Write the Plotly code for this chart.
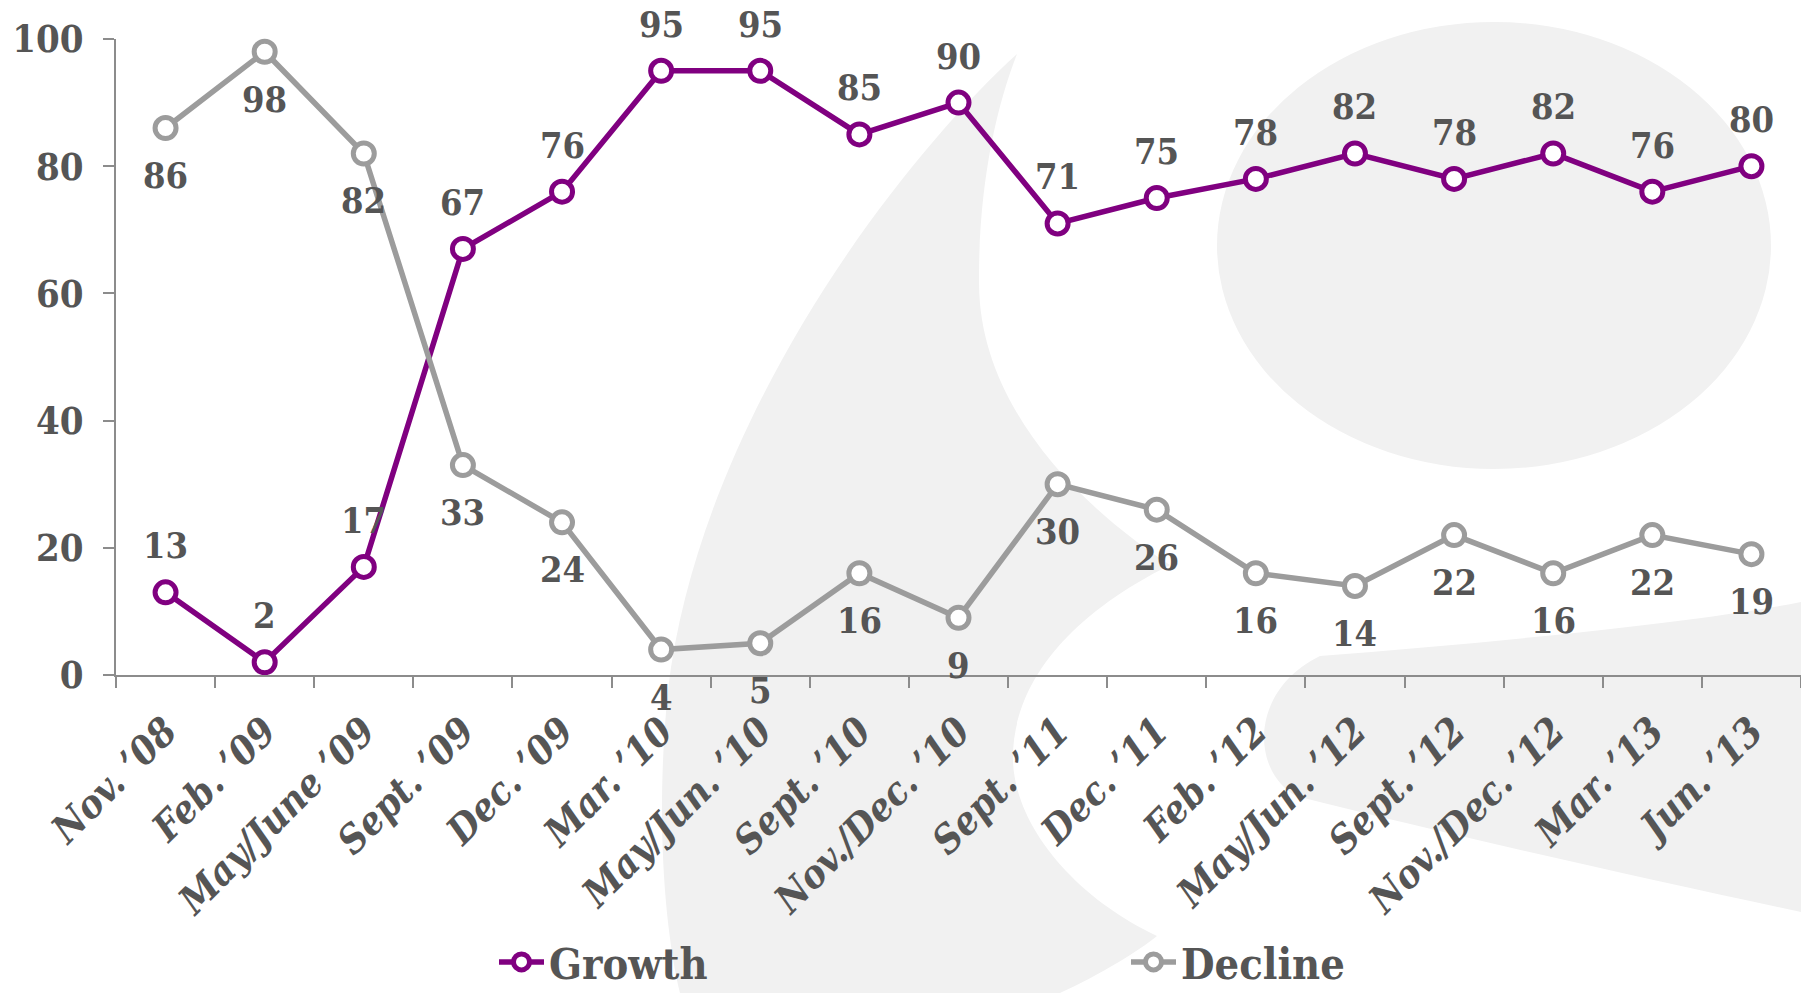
import plotly.graph_objects as go

categories = ["Nov. ’08", "Feb. ’09", "May/June ’09", "Sept. ’09", "Dec. ’09",
              "Mar. ’10", "May/Jun. ’10", "Sept. ’10", "Nov./Dec. ’10", "Sept. ’11",
              "Dec. ’11", "Feb. ’12", "May/Jun. ’12", "Sept. ’12", "Nov./Dec. ’12",
              "Mar. ’13", "Jun. ’13"]
growth = [13, 2, 17, 67, 76, 95, 95, 85, 90, 71, 75, 78, 82, 78, 82, 76, 80]
decline = [86, 98, 82, 33, 24, 4, 5, 16, 9, 30, 26, 16, 14, 22, 16, 22, 19]

PURPLE = "#800080"
GREY = "#9C9C9C"
TEXT = "#555555"
FONT = "'DejaVu Serif Condensed', 'DejaVu Serif', serif"
W, H = 1801, 993
ML, MR, MT, MB = 116, 0, 39, 318
PW, PH = W - ML - MR, H - MT - MB


def px(x):
    return (x - ML) / PW


def py(y):
    return (H - MB - y) / PH


def path(points):
    out = []
    for cmd, pts in points:
        coords = " ".join(f"{px(a):.4f},{py(b):.4f}" for a, b in pts)
        out.append(f"{cmd}{coords}")
    return " ".join(out) + " Z"


WM = "#F1F1F1"
shapes = [
    dict(type="circle", xref="paper", yref="paper", layer="below",
         x0=px(1217), x1=px(1771), y0=py(469), y1=py(22),
         fillcolor=WM, line=dict(width=0)),
    dict(type="path", xref="paper", yref="paper", layer="below",
         fillcolor=WM, line=dict(width=0),
         path=path([
             ("M", [(1017, 54)]),
             ("C", [(900, 160), (700, 420), (668, 690)]),
             ("C", [(655, 820), (665, 930), (680, 993)]),
             ("L", [(1060, 993)]),
             ("C", [(1100, 975), (1140, 950), (1157, 936)]),
             ("C", [(1080, 900), (1015, 830), (1013, 760)]),
             ("C", [(1012, 690), (1060, 620), (1170, 565)]),
             ("C", [(1070, 500), (980, 400), (979, 285)]),
             ("C", [(978, 190), (995, 110), (1017, 54)]),
         ])),
    dict(type="path", xref="paper", yref="paper", layer="below",
         fillcolor=WM, line=dict(width=0),
         path=path([
             ("M", [(1320, 656)]),
             ("C", [(1500, 642), (1700, 622), (1801, 602)]),
             ("L", [(1801, 912)]),
             ("C", [(1650, 880), (1450, 835), (1296, 796)]),
             ("C", [(1250, 770), (1250, 690), (1320, 656)]),
         ])),
]

fig = go.Figure()
fig.add_trace(go.Scatter(
    x=categories, y=growth, name="Growth", mode="lines+markers",
    line=dict(color=PURPLE, width=5.5),
    marker=dict(size=21, color="white", line=dict(color=PURPLE, width=5)),
    cliponaxis=False, legend="legend",
))
fig.add_trace(go.Scatter(
    x=categories, y=decline, name="Decline", mode="lines+markers",
    line=dict(color=GREY, width=5.5),
    marker=dict(size=21, color="white", line=dict(color=GREY, width=5)),
    cliponaxis=False, legend="legend2",
))

label_font = dict(family=FONT, size=36, color=TEXT, weight="bold")
annotations = []
for c, v in zip(categories, growth):
    annotations.append(dict(x=c, y=v, text=str(v), showarrow=False,
                            yshift=47, font=label_font))
for c, v in zip(categories, decline):
    annotations.append(dict(x=c, y=v, text=str(v), showarrow=False,
                            yshift=-47, font=label_font))

legend_font = dict(family=FONT, size=43, color=TEXT, weight="bold")
LEG_Y = 1 - 962 / H
fig.update_layout(
    width=W, height=H,
    margin=dict(l=ML, r=MR, t=MT, b=MB, pad=0),
    paper_bgcolor="white", plot_bgcolor="rgba(0,0,0,0)",
    shapes=shapes, annotations=annotations,
    showlegend=True,
    legend=dict(orientation="h", xref="container", yref="container",
                x=494 / W, xanchor="left", y=LEG_Y, yanchor="middle",
                font=legend_font, bgcolor="rgba(0,0,0,0)", itemwidth=45),
    legend2=dict(orientation="h", xref="container", yref="container",
                 x=1126 / W, xanchor="left", y=LEG_Y, yanchor="middle",
                 font=legend_font, bgcolor="rgba(0,0,0,0)", itemwidth=45),
    xaxis=dict(
        type="category", range=[-0.5, len(categories) - 0.5], automargin=False,
        showline=True, linecolor="#8C8C8C", linewidth=1.5,
        ticks="outside", tickson="boundaries", ticklen=11, tickcolor="#8C8C8C", tickwidth=1.5,
        tickangle=-45, showgrid=False, zeroline=False,
        tickfont=dict(family=FONT, size=39, color=TEXT, weight="bold", style="italic"),
        ticklabelstandoff=16,
    ),
    yaxis=dict(
        range=[0, 100], dtick=20, tick0=0, automargin=False,
        showline=True, linecolor="#8C8C8C", linewidth=1.5,
        ticks="outside", ticklen=11, tickcolor="#8C8C8C", tickwidth=1.5,
        showgrid=False, zeroline=False,
        tickfont=dict(family=FONT, size=38, color=TEXT, weight="bold"),
        ticklabelstandoff=12,
    ),
)

fig.write_html("out.html", config={"displayModeBar": False},
               post_script="document.body.style.margin='0';")
